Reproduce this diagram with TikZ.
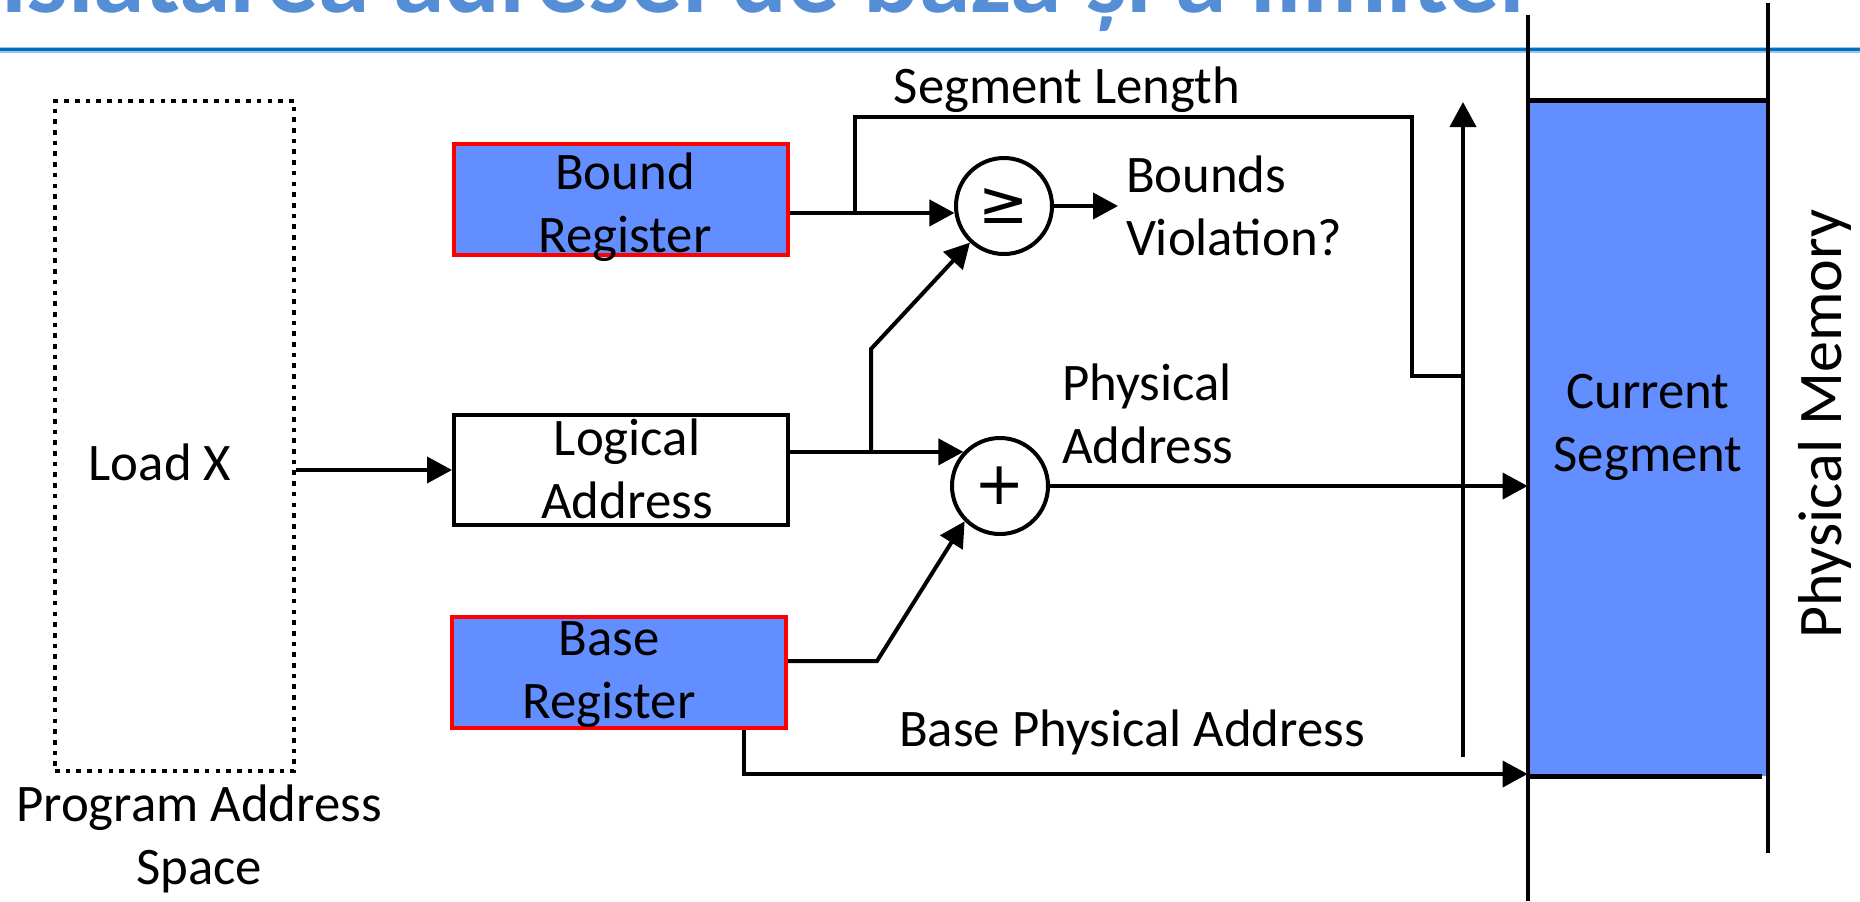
\documentclass[tikz,border=0pt]{standalone}
\usepackage{fontspec}
\setmainfont{Carlito}
\newfontfamily\djv{DejaVu Sans}
\usetikzlibrary{arrows.meta}
\definecolor{segblue}{RGB}{99,142,255}
\definecolor{titleblue}{RGB}{86,142,214}
\definecolor{ruledark}{RGB}{0,112,192}
\definecolor{rulelight}{RGB}{157,195,230}
\newcommand\mytop{\rule{0pt}{20pt}}
\newcommand\mybig{\rule{0pt}{24pt}}
\begin{document}
\begin{tikzpicture}[x=0.5pt,y=-0.5pt,
  ln/.style={line width=2pt,line join=miter},
  arr/.style={ln,-{Triangle[length=12.5pt,width=13pt]}},
  regbox/.style={draw=red,line width=2pt,fill=segblue,minimum width=167pt,minimum height=55.5pt,inner sep=0},
  plainbox/.style={draw=black,line width=2pt,fill=white,minimum width=167pt,minimum height=55pt,inner sep=0},
  dotbox/.style={draw,line width=2.3pt,dash pattern=on 2.3pt off 3.05pt,minimum width=119.5pt,minimum height=335pt,inner sep=0},
  op/.style={circle,draw,line width=2pt,minimum size=48pt,inner sep=0,font=\djv\fontsize{30}{30}\selectfont},
  txt/.style={inner sep=0,outer sep=0,anchor=north,align=center,font=\fontsize{26.4}{31.75}\selectfont},
  ltxt/.style={txt,anchor=north west,align=left},
  wall/.style={line width=2.4pt}]
\useasboundingbox (0,0) rectangle (1860,901);
\clip (0,0) rectangle (1860,901);

% title and rule
\node[anchor=base east,inner sep=0,text=titleblue,font=\bfseries\fontsize{52}{52}\selectfont] (title) at (1525,12) {Translatarea adresei de bază și a limitei};
\draw[rulelight,line width=3pt] (0,49.5) -- (1860,49.5);
\draw[ruledark,line width=1.5pt] (0,49.5) -- (1860,49.5);

% physical memory
\node[fill=segblue,minimum width=120pt,minimum height=337.5pt,inner sep=0] (seg) at (1648,438.5) {};
\draw[wall] (seg.north west) -- (seg.north east);
\draw[wall] (seg.south west) -- ([xshift=-3pt]seg.south east);
\coordinate (wl1) at (1528,15);
\coordinate (wl2) at (1528,901);
\coordinate (wr1) at (1768,3);
\coordinate (wr2) at (1768,853);
\draw[wall] (wl1) -- (wl2);
\draw[wall] (wr1) -- (wr2);
\node[txt] (segt) at (1648,368) {\mytop Current\\Segment};
\node[txt,rotate=90,font=\fontsize{31}{31}\selectfont] (pm) at (1793,424) {\mybig Physical Memory};

% program address space
\node[dotbox] (prog) at (174.5,436) {};
\node[txt] (loadx) at (160,440) {\mytop Load X};
\node[txt] (progt) at (199,781) {\mytop Program Address\\Space};

% registers
\node[regbox] (bound) at (621,199.5) {};
\node[txt] (boundt) at (625,149) {\mytop Bound\\Register};
\node[plainbox] (logical) at (621,470) {};
\node[txt] (logicalt) at (627,415) {\mytop Logical\\Address};
\node[regbox] (base) at (619,672) {};
\node[txt] (baset) at (609,615) {\mytop Base\\Register};

% operators
\node[op] (geq) at (1004,206) {≥};
\node[op] (plus) at (1000,486) {+};

% labels
\node[txt] (seglen) at (1067,63) {\mytop Segment Length};
\node[ltxt] (bv) at (1126,152) {\mytop Bounds\\Violation?};
\node[ltxt] (pa) at (1062,360) {\mytop Physical\\Address};
\node[txt] (bpa) at (1132,706) {\mytop Base Physical Address};

% junctions and bends
\coordinate (j1) at (855,213);
\coordinate (s1) at (855,117);
\coordinate (s2) at (1412,117);
\coordinate (s3) at (1412,376);
\coordinate (vmid) at (1463,376);
\coordinate (vbot) at (1463,757);
\coordinate (vtop) at (1463,102);
\coordinate (j2) at (871,452);
\coordinate (j2b) at (871,349);
\coordinate (b1) at (877,661);
\coordinate (b2) at (744,774);

% connectors
\draw[arr] (prog.east |- logical.west) -- (logical.west);
\draw[arr] (bound.east |- geq.188) -- (geq.188);
\draw[ln] (j1) -- (s1) -- (s2) -- (s3) -- (vmid);
\draw[arr] (vbot) -- (vtop);
\draw[arr] (logical.east |- plus.137) -- (plus.137);
\draw[arr] (j2) -- (j2b) -- (geq);
\draw[arr] (base.east |- b1) -- (b1) -- (plus.south west);
\draw[arr] (base.south -| b2) -- (b2) -- (seg.west |- b2);
\draw[arr] (geq.east) -- ([xshift=-4pt]bv.west |- geq.east);
\draw[arr] (plus.east) -- (seg.west |- plus.east);
\end{tikzpicture}
\end{document}
